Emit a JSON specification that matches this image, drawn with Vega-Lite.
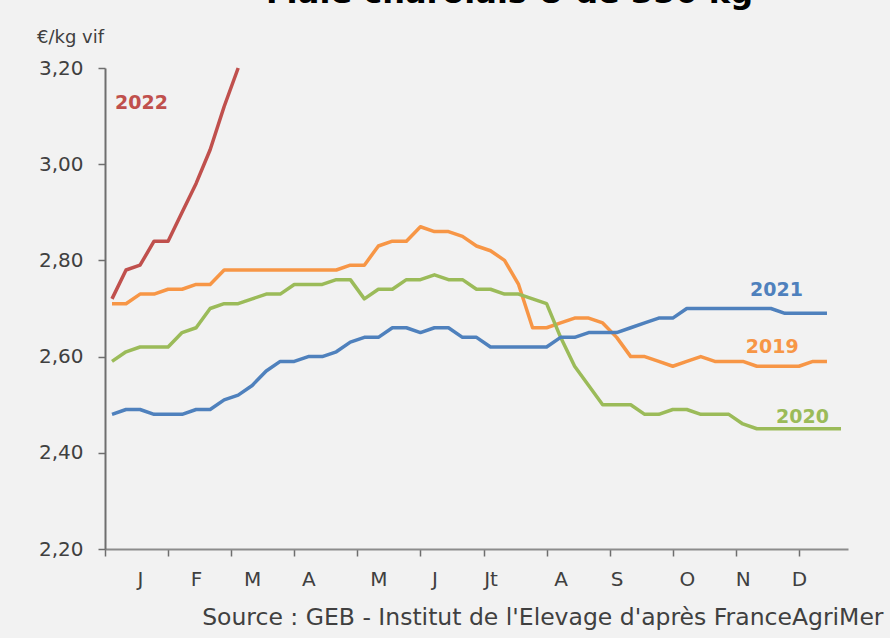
{
  "$schema": "https://vega.github.io/schema/vega-lite/v6.json",
  "width": 743,
  "height": 481,
  "autosize": {"type": "none"},
  "padding": {"left": 105, "top": 68, "right": 42, "bottom": 89},
  "background": "#f2f2f2",
  "config": {"view": {"stroke": null}, "font": "DejaVu Sans"},
  "title": {
    "text": "Mâle charolais U de 350 kg",
    "fontSize": 32,
    "fontWeight": "bold",
    "color": "#000000",
    "anchor": "middle",
    "baseline": "alphabetic",
    "dx": 33,
    "dy": 23,
    "offset": 16
  },
  "datasets": {
    "prices": [
      {"year": "2019", "week": 1, "price": 2.71}, {"year": "2019", "week": 2, "price": 2.71}, {"year": "2019", "week": 3, "price": 2.73}, {"year": "2019", "week": 4, "price": 2.73},
      {"year": "2019", "week": 5, "price": 2.74}, {"year": "2019", "week": 6, "price": 2.74}, {"year": "2019", "week": 7, "price": 2.75}, {"year": "2019", "week": 8, "price": 2.75},
      {"year": "2019", "week": 9, "price": 2.78}, {"year": "2019", "week": 10, "price": 2.78}, {"year": "2019", "week": 11, "price": 2.78}, {"year": "2019", "week": 12, "price": 2.78},
      {"year": "2019", "week": 13, "price": 2.78}, {"year": "2019", "week": 14, "price": 2.78}, {"year": "2019", "week": 15, "price": 2.78}, {"year": "2019", "week": 16, "price": 2.78},
      {"year": "2019", "week": 17, "price": 2.78}, {"year": "2019", "week": 18, "price": 2.79}, {"year": "2019", "week": 19, "price": 2.79}, {"year": "2019", "week": 20, "price": 2.83},
      {"year": "2019", "week": 21, "price": 2.84}, {"year": "2019", "week": 22, "price": 2.84}, {"year": "2019", "week": 23, "price": 2.87}, {"year": "2019", "week": 24, "price": 2.86},
      {"year": "2019", "week": 25, "price": 2.86}, {"year": "2019", "week": 26, "price": 2.85}, {"year": "2019", "week": 27, "price": 2.83}, {"year": "2019", "week": 28, "price": 2.82},
      {"year": "2019", "week": 29, "price": 2.80}, {"year": "2019", "week": 30, "price": 2.75}, {"year": "2019", "week": 31, "price": 2.66}, {"year": "2019", "week": 32, "price": 2.66},
      {"year": "2019", "week": 33, "price": 2.67}, {"year": "2019", "week": 34, "price": 2.68}, {"year": "2019", "week": 35, "price": 2.68}, {"year": "2019", "week": 36, "price": 2.67},
      {"year": "2019", "week": 37, "price": 2.64}, {"year": "2019", "week": 38, "price": 2.60}, {"year": "2019", "week": 39, "price": 2.60}, {"year": "2019", "week": 40, "price": 2.59},
      {"year": "2019", "week": 41, "price": 2.58}, {"year": "2019", "week": 42, "price": 2.59}, {"year": "2019", "week": 43, "price": 2.60}, {"year": "2019", "week": 44, "price": 2.59},
      {"year": "2019", "week": 45, "price": 2.59}, {"year": "2019", "week": 46, "price": 2.59}, {"year": "2019", "week": 47, "price": 2.58}, {"year": "2019", "week": 48, "price": 2.58},
      {"year": "2019", "week": 49, "price": 2.58}, {"year": "2019", "week": 50, "price": 2.58}, {"year": "2019", "week": 51, "price": 2.59}, {"year": "2019", "week": 52, "price": 2.59},

      {"year": "2020", "week": 1, "price": 2.59}, {"year": "2020", "week": 2, "price": 2.61}, {"year": "2020", "week": 3, "price": 2.62}, {"year": "2020", "week": 4, "price": 2.62},
      {"year": "2020", "week": 5, "price": 2.62}, {"year": "2020", "week": 6, "price": 2.65}, {"year": "2020", "week": 7, "price": 2.66}, {"year": "2020", "week": 8, "price": 2.70},
      {"year": "2020", "week": 9, "price": 2.71}, {"year": "2020", "week": 10, "price": 2.71}, {"year": "2020", "week": 11, "price": 2.72}, {"year": "2020", "week": 12, "price": 2.73},
      {"year": "2020", "week": 13, "price": 2.73}, {"year": "2020", "week": 14, "price": 2.75}, {"year": "2020", "week": 15, "price": 2.75}, {"year": "2020", "week": 16, "price": 2.75},
      {"year": "2020", "week": 17, "price": 2.76}, {"year": "2020", "week": 18, "price": 2.76}, {"year": "2020", "week": 19, "price": 2.72}, {"year": "2020", "week": 20, "price": 2.74},
      {"year": "2020", "week": 21, "price": 2.74}, {"year": "2020", "week": 22, "price": 2.76}, {"year": "2020", "week": 23, "price": 2.76}, {"year": "2020", "week": 24, "price": 2.77},
      {"year": "2020", "week": 25, "price": 2.76}, {"year": "2020", "week": 26, "price": 2.76}, {"year": "2020", "week": 27, "price": 2.74}, {"year": "2020", "week": 28, "price": 2.74},
      {"year": "2020", "week": 29, "price": 2.73}, {"year": "2020", "week": 30, "price": 2.73}, {"year": "2020", "week": 31, "price": 2.72}, {"year": "2020", "week": 32, "price": 2.71},
      {"year": "2020", "week": 33, "price": 2.64}, {"year": "2020", "week": 34, "price": 2.58}, {"year": "2020", "week": 35, "price": 2.54}, {"year": "2020", "week": 36, "price": 2.50},
      {"year": "2020", "week": 37, "price": 2.50}, {"year": "2020", "week": 38, "price": 2.50}, {"year": "2020", "week": 39, "price": 2.48}, {"year": "2020", "week": 40, "price": 2.48},
      {"year": "2020", "week": 41, "price": 2.49}, {"year": "2020", "week": 42, "price": 2.49}, {"year": "2020", "week": 43, "price": 2.48}, {"year": "2020", "week": 44, "price": 2.48},
      {"year": "2020", "week": 45, "price": 2.48}, {"year": "2020", "week": 46, "price": 2.46}, {"year": "2020", "week": 47, "price": 2.45}, {"year": "2020", "week": 48, "price": 2.45},
      {"year": "2020", "week": 49, "price": 2.45}, {"year": "2020", "week": 50, "price": 2.45}, {"year": "2020", "week": 51, "price": 2.45}, {"year": "2020", "week": 52, "price": 2.45},
      {"year": "2020", "week": 53, "price": 2.45},

      {"year": "2021", "week": 1, "price": 2.48}, {"year": "2021", "week": 2, "price": 2.49}, {"year": "2021", "week": 3, "price": 2.49}, {"year": "2021", "week": 4, "price": 2.48},
      {"year": "2021", "week": 5, "price": 2.48}, {"year": "2021", "week": 6, "price": 2.48}, {"year": "2021", "week": 7, "price": 2.49}, {"year": "2021", "week": 8, "price": 2.49},
      {"year": "2021", "week": 9, "price": 2.51}, {"year": "2021", "week": 10, "price": 2.52}, {"year": "2021", "week": 11, "price": 2.54}, {"year": "2021", "week": 12, "price": 2.57},
      {"year": "2021", "week": 13, "price": 2.59}, {"year": "2021", "week": 14, "price": 2.59}, {"year": "2021", "week": 15, "price": 2.60}, {"year": "2021", "week": 16, "price": 2.60},
      {"year": "2021", "week": 17, "price": 2.61}, {"year": "2021", "week": 18, "price": 2.63}, {"year": "2021", "week": 19, "price": 2.64}, {"year": "2021", "week": 20, "price": 2.64},
      {"year": "2021", "week": 21, "price": 2.66}, {"year": "2021", "week": 22, "price": 2.66}, {"year": "2021", "week": 23, "price": 2.65}, {"year": "2021", "week": 24, "price": 2.66},
      {"year": "2021", "week": 25, "price": 2.66}, {"year": "2021", "week": 26, "price": 2.64}, {"year": "2021", "week": 27, "price": 2.64}, {"year": "2021", "week": 28, "price": 2.62},
      {"year": "2021", "week": 29, "price": 2.62}, {"year": "2021", "week": 30, "price": 2.62}, {"year": "2021", "week": 31, "price": 2.62}, {"year": "2021", "week": 32, "price": 2.62},
      {"year": "2021", "week": 33, "price": 2.64}, {"year": "2021", "week": 34, "price": 2.64}, {"year": "2021", "week": 35, "price": 2.65}, {"year": "2021", "week": 36, "price": 2.65},
      {"year": "2021", "week": 37, "price": 2.65}, {"year": "2021", "week": 38, "price": 2.66}, {"year": "2021", "week": 39, "price": 2.67}, {"year": "2021", "week": 40, "price": 2.68},
      {"year": "2021", "week": 41, "price": 2.68}, {"year": "2021", "week": 42, "price": 2.70}, {"year": "2021", "week": 43, "price": 2.70}, {"year": "2021", "week": 44, "price": 2.70},
      {"year": "2021", "week": 45, "price": 2.70}, {"year": "2021", "week": 46, "price": 2.70}, {"year": "2021", "week": 47, "price": 2.70}, {"year": "2021", "week": 48, "price": 2.70},
      {"year": "2021", "week": 49, "price": 2.69}, {"year": "2021", "week": 50, "price": 2.69}, {"year": "2021", "week": 51, "price": 2.69}, {"year": "2021", "week": 52, "price": 2.69},

      {"year": "2022", "week": 1, "price": 2.72}, {"year": "2022", "week": 2, "price": 2.78}, {"year": "2022", "week": 3, "price": 2.79}, {"year": "2022", "week": 4, "price": 2.84},
      {"year": "2022", "week": 5, "price": 2.84}, {"year": "2022", "week": 6, "price": 2.90}, {"year": "2022", "week": 7, "price": 2.96}, {"year": "2022", "week": 8, "price": 3.03},
      {"year": "2022", "week": 9, "price": 3.12}, {"year": "2022", "week": 10, "price": 3.20}
    ],
    "labels": [
      {"year": "2022", "week": 3.1, "price": 3.127},
      {"year": "2021", "week": 48.4, "price": 2.738},
      {"year": "2019", "week": 48.1, "price": 2.62},
      {"year": "2020", "week": 50.25, "price": 2.475}
    ]
  },
  "resolve": {"axis": {"x": "independent"}},
  "layer": [
    {
      "data": {"name": "prices"},
      "mark": {"type": "line", "strokeWidth": 3.5, "strokeJoin": "round"},
      "encoding": {
        "x": {
          "field": "week",
          "type": "quantitative",
          "scale": {"domain": [0.5, 53.5], "nice": false, "zero": false},
          "axis": {
            "orient": "bottom",
            "values": [0.5, 5, 9.5, 14, 18.5, 23, 27.5, 32, 36.5, 41, 45.5, 50],
            "labels": false,
            "grid": false,
            "domainColor": "#8c8c8c",
            "domainWidth": 2,
            "tickColor": "#6e6e6e",
            "tickWidth": 1.5,
            "tickSize": 7,
            "title": "Source : GEB - Institut de l'Elevage d'après FranceAgriMer",
            "titleFontSize": 23.5,
            "titleFontWeight": "normal",
            "titleColor": "#404040",
            "titleAnchor": "end",
            "titleAlign": "right",
            "titleBaseline": "middle",
            "titleX": 778,
            "titleY": 68
          }
        },
        "y": {
          "field": "price",
          "type": "quantitative",
          "scale": {"domain": [2.2, 3.2], "nice": false, "zero": false},
          "axis": {
            "values": [2.2, 2.4, 2.6, 2.8, 3.0, 3.2],
            "labelExpr": "replace(format(datum.value, '.2f'), '.', ',')",
            "grid": false,
            "domainColor": "#6e6e6e",
            "domainWidth": 2,
            "tickColor": "#6e6e6e",
            "tickWidth": 1.5,
            "tickSize": 7,
            "labelFontSize": 20,
            "labelColor": "#404040",
            "labelPadding": 15,
            "title": "€/kg vif",
            "titleAngle": 0,
            "titleFontSize": 18,
            "titleFontWeight": "normal",
            "titleColor": "#404040",
            "titleAlign": "center",
            "titleBaseline": "middle",
            "titleX": -35,
            "titleY": -31
          }
        },
        "color": {
          "field": "year",
          "type": "nominal",
          "scale": {"domain": ["2019", "2020", "2021", "2022"], "range": ["#f79646", "#9bbb59", "#4f81bd", "#c0504d"]},
          "legend": null
        }
      }
    },
    {
      "data": {"name": "labels"},
      "mark": {"type": "text", "fontSize": 19, "fontWeight": "bold", "align": "center", "baseline": "middle"},
      "encoding": {
        "x": {
          "field": "week",
          "type": "quantitative",
          "axis": {
            "orient": "bottom",
            "values": [3, 7, 11, 15, 20, 24, 28, 33, 37, 42, 46, 50],
            "labelExpr": "['J','F','M','A','M','J','Jt','A','S','O','N','D'][indexof([3,7,11,15,20,24,28,33,37,42,46,50], datum.value)]",
            "ticks": false,
            "domain": false,
            "grid": false,
            "labelFontSize": 20,
            "labelColor": "#404040",
            "labelPadding": 20,
            "labelOverlap": false,
            "labelFlush": false,
            "labelBound": false,
            "title": null
          }
        },
        "y": {"field": "price", "type": "quantitative"},
        "text": {"field": "year"},
        "color": {"field": "year", "type": "nominal", "legend": null}
      }
    }
  ]
}
